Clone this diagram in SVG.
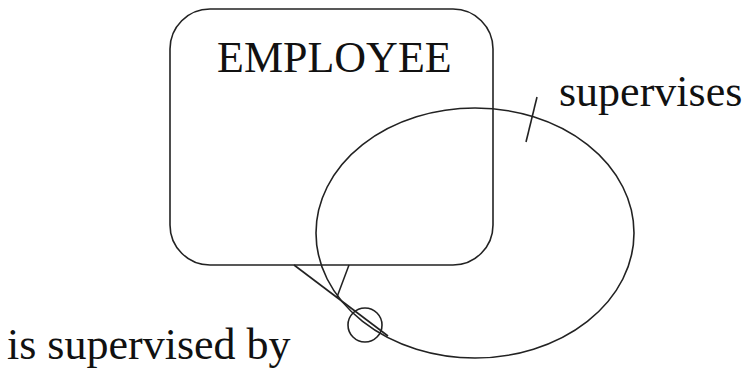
<svg xmlns="http://www.w3.org/2000/svg" width="746" height="373" viewBox="0 0 746 373">
<style>
.ln{fill:none;stroke:#222;stroke-width:1.6}
.t{font-family:"Liberation Serif","Times New Roman",serif;font-size:44px;fill:#111}
</style>
<rect width="746" height="373" fill="#fff"/>
<g id="employee">
<rect class="ln" x="170" y="9" width="323" height="256" rx="40" ry="40"/>
<text class="t" x="217" y="72">EMPLOYEE</text>
</g>
<g id="connectors">
<ellipse class="ln" cx="475" cy="233" rx="159" ry="125"/>
<line class="ln" x1="294" y1="265" x2="388" y2="336"/>
<line class="ln" x1="349" y1="265" x2="337" y2="297"/>
<circle class="ln" cx="365" cy="325" r="17"/>
<line class="ln" x1="537" y1="97" x2="526" y2="142"/>
</g>
<g id="labels">
<text class="t" x="559" y="106">supervises</text>
<text class="t" x="7" y="359">is supervised by</text>
</g>
</svg>
